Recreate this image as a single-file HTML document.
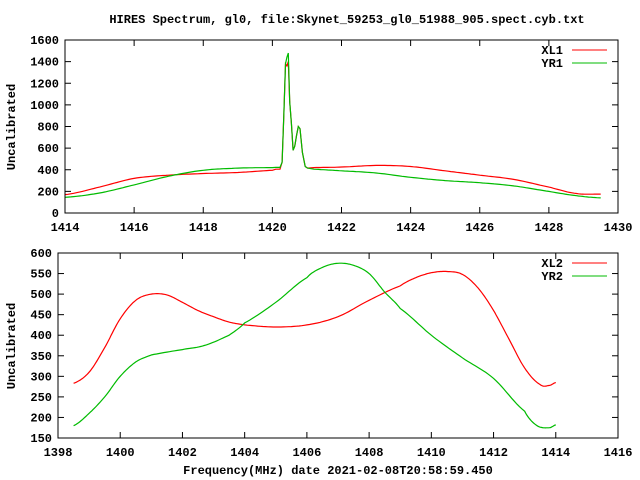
<!DOCTYPE html>
<html><head><meta charset="utf-8"><style>
body{margin:0;background:#fff}
svg{display:block}
text{font-family:"Liberation Mono",monospace;font-size:12px;font-weight:bold;fill:#000}
</style></head><body>
<svg id="s" width="640" height="480" xmlns="http://www.w3.org/2000/svg">
<text x="347" y="23" text-anchor="middle">HIRES Spectrum, gl0, file:Skynet_59253_gl0_51988_905.spect.cyb.txt</text>
<text x="338" y="474" text-anchor="middle">Frequency(MHz) date 2021-02-08T20:58:59.450</text>
<text transform="translate(15,127) rotate(-90)" text-anchor="middle">Uncalibrated</text>
<text transform="translate(15,346) rotate(-90)" text-anchor="middle">Uncalibrated</text>
<g id="g"></g>
</svg>
<script>
var g=document.getElementById('g'),NS='http://www.w3.org/2000/svg';
function el(t,a,txt){var e=document.createElementNS(NS,t);for(var k in a)e.setAttribute(k,a[k]);if(txt!=null)e.textContent=txt;g.appendChild(e);return e;}
function plot(P){
 var X=function(v){return P.x0+(v-P.xa)/(P.xb-P.xa)*(P.x1-P.x0)};
 var Y=function(v){return P.y0-(v-P.ya)/(P.yb-P.ya)*(P.y0-P.y1)};
 for(var v=P.ya;v<=P.yb+1e-9;v+=P.ys){var y=Y(v);
  el('line',{x1:P.x0,y1:y,x2:P.x0+6,y2:y,stroke:'#000'});
  el('line',{x1:P.x1,y1:y,x2:P.x1-6,y2:y,stroke:'#000'});
  el('text',{x:P.x0-6,y:y+4,'text-anchor':'end'},v);}
 for(var v=P.xa;v<=P.xb+1e-9;v+=P.xs){var x=X(v);
  el('line',{x1:x,y1:P.y0,x2:x,y2:P.y0-6,stroke:'#000'});
  el('line',{x1:x,y1:P.y1,x2:x,y2:P.y1+6,stroke:'#000'});
  el('text',{x:x,y:P.y0+18,'text-anchor':'middle'},v);}
 P.series.forEach(function(s,i){
  var d=s.d,pts=[];
  for(var j=0;j<d.length-1;j++){var a=d[j],b=d[j+1],n=(b[0]-a[0])<0.2?1:12;
   var p0=d[j-1]||a,p3=d[j+2]||b;
   for(var k=0;k<n;k++){var t=k/n;
    var xx=a[0]+(b[0]-a[0])*t;
    var yy=n==1?a[1]:0.5*((2*a[1])+(-p0[1]+b[1])*t+(2*p0[1]-5*a[1]+4*b[1]-p3[1])*t*t+(-p0[1]+3*a[1]-3*b[1]+p3[1])*t*t*t);
    pts.push(X(xx).toFixed(1)+','+Y(yy).toFixed(1));}}
  var l=d[d.length-1];pts.push(X(l[0]).toFixed(1)+','+Y(l[1]).toFixed(1));
  el('polyline',{points:pts.join(' '),fill:'none',stroke:s.c,'stroke-width':1.2});
  var ly=P.y1+10+i*13;
  el('text',{x:P.x1-55,y:ly+4,'text-anchor':'end'},s.n);
  el('line',{x1:P.x1-46,y1:ly,x2:P.x1-11,y2:ly,stroke:s.c});
 });
 el('rect',{x:P.x0,y:P.y1,width:P.x1-P.x0,height:P.y0-P.y1,fill:'none',stroke:'#000'});
}
function spike(base,pk){return [[1420.22,base],[1420.28,470],[1420.33,900],[1420.38,1380],[1420.42,pk-40],[1420.46,pk],[1420.5,1030],[1420.55,830],[1420.6,580],[1420.65,620],[1420.7,720],[1420.75,800],[1420.8,780],[1420.87,560],[1420.95,430],[1421.02,415]];}
var r1=[[1414,170],[1415,240],[1416,320],[1417,350],[1418,365],[1419,375],[1420,395],[1420.1,405]].concat(spike(405,1400)).concat([[1421.2,420],[1422,425],[1423,440],[1424,430],[1425,390],[1426,350],[1427,310],[1428,240],[1428.8,180],[1429.5,175]]);
var g1=[[1414,145],[1415,185],[1416,260],[1417,340],[1418,395],[1419,415],[1420,420],[1420.1,422]].concat(spike(422,1480)).concat([[1421.2,405],[1422,390],[1423,370],[1424,330],[1425,300],[1426,280],[1427,250],[1428,200],[1428.8,160],[1429.5,140]]);
plot({x0:65,x1:618,y0:213,y1:40,xa:1414,xb:1430,xs:2,ya:0,yb:1600,ys:200,
 series:[{n:'XL1',c:'#f00',d:r1},{n:'YR1',c:'#0b0',d:g1}]});
plot({x0:58,x1:618,y0:438,y1:253,xa:1398,xb:1416,xs:2,ya:150,yb:600,ys:50,
 series:[{n:'XL2',c:'#f00',d:[[1398.5,283],[1399,310],[1399.5,370],[1400,440],[1400.5,485],[1401,500],[1401.5,498],[1402,480],[1402.5,460],[1403,445],[1403.5,432],[1404,425],[1405,420],[1406,425],[1407,445],[1408,485],[1409,520],[1409.5,540],[1410,552],[1410.5,555],[1411,548],[1411.5,515],[1412,460],[1412.5,390],[1413,320],[1413.5,280],[1413.8,278],[1414,285]]},
 {n:'YR2',c:'#0b0',d:[[1398.5,180],[1399,210],[1399.5,250],[1400,300],[1400.5,335],[1401,352],[1402,365],[1402.7,375],[1403.5,400],[1404,430],[1405,480],[1406,540],[1406.5,565],[1407,575],[1407.5,570],[1408,550],[1408.5,505],[1409,465],[1410,400],[1411,345],[1412,295],[1413,215],[1413.4,180],[1413.8,175],[1414,182]]}]});
</script>
</body></html>
